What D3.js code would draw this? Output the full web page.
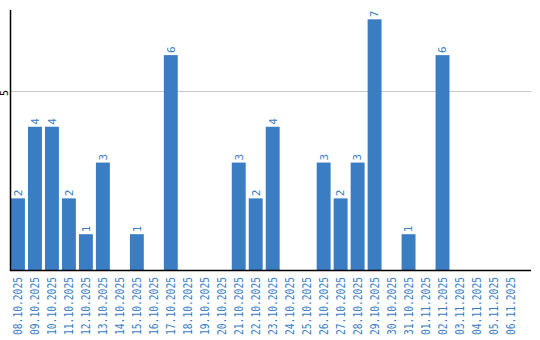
<!DOCTYPE html>
<html>
<head>
<meta charset="utf-8">
<script src="https://cdn.jsdelivr.net/npm/d3@7"></script>
<style>
  body { margin: 0; background: #fff; }
  svg { display: block; }
  text { font-family: "DejaVu Sans Mono", monospace; }
</style>
</head>
<body>
<div id="chart"></div>
<script>
const dates = [
  '08.10.2025', '09.10.2025', '10.10.2025', '11.10.2025', '12.10.2025', '13.10.2025',
  '14.10.2025', '15.10.2025', '16.10.2025', '17.10.2025', '18.10.2025', '19.10.2025',
  '20.10.2025', '21.10.2025', '22.10.2025', '23.10.2025', '24.10.2025', '25.10.2025',
  '26.10.2025', '27.10.2025', '28.10.2025', '29.10.2025', '30.10.2025', '31.10.2025',
  '01.11.2025', '02.11.2025', '03.11.2025', '04.11.2025', '05.11.2025', '06.11.2025'
];
const counts = [2, 4, 4, 2, 1, 3, 0, 1, 0, 6, 0, 0, 0, 3, 2, 4, 0, 0, 3, 2, 3, 7, 0, 1, 0, 6, 0, 0, 0, 0];
const yTicks = [5];
const yMax = 7.26;

const width = 540;
const height = 340;
const plotLeft = 11;
const plotRight = 531;
const plotTop = 10;
const plotBottom = 270;
const barColor = '#3a7dc3';

const svg = d3.select('#chart').append('svg').attr('width', width).attr('height', height);

const x = d3.scaleBand().domain(dates).range([plotLeft, plotRight]).paddingInner(0.18).paddingOuter(0.4).align(0);
const y = d3.scaleLinear().domain([0, yMax]).range([plotBottom, plotTop]);

// gridlines
svg.selectAll('.grid')
  .data(yTicks)
  .join('line')
  .attr('x1', plotLeft)
  .attr('x2', plotRight)
  .attr('y1', (d) => Math.round(y(d)) + 0.5)
  .attr('y2', (d) => Math.round(y(d)) + 0.5)
  .attr('stroke', '#c8c8c8')
  .attr('stroke-width', 1);

const data = dates.map((d, i) => ({ date: d, value: counts[i] }));
const bars = data.filter((d) => d.value > 0);

svg.selectAll('.bar')
  .data(bars)
  .join('rect')
  .attr('x', (d) => x(d.date))
  .attr('y', (d) => y(d.value))
  .attr('width', x.bandwidth())
  .attr('height', (d) => plotBottom - y(d.value))
  .attr('fill', barColor);

// value labels
svg.selectAll('.val')
  .data(bars)
  .join('text')
  .attr('transform', (d) => `translate(${x(d.date) + x.bandwidth() / 2},${y(d.value) - 2}) rotate(-90)`)
  .attr('dy', '0.35em')
  .attr('font-size', 11)
  .attr('fill', barColor)
  .text((d) => d.value);

// x labels
svg.selectAll('.xlab')
  .data(dates)
  .join('text')
  .attr('transform', (d) => `translate(${x(d) + x.bandwidth() / 2},${plotBottom + 7}) rotate(-90)`)
  .attr('dy', '0.35em')
  .attr('text-anchor', 'end')
  .attr('font-size', 12)
  .attr('textLength', 58)
  .attr('lengthAdjust', 'spacingAndGlyphs')
  .attr('fill', barColor)
  .text((d) => d);

// y tick labels
svg.selectAll('.ylab')
  .data(yTicks)
  .join('text')
  .attr('transform', (d) => `translate(4,${y(d) + 2}) rotate(-90)`)
  .attr('dy', '0.35em')
  .attr('text-anchor', 'middle')
  .attr('font-size', 10)
  .attr('fill', '#000')
  .text((d) => d);

// axes lines
svg.append('line')
  .attr('x1', plotLeft - 0.5).attr('x2', plotLeft - 0.5)
  .attr('y1', plotTop).attr('y2', plotBottom + 1)
  .attr('stroke', '#000').attr('stroke-width', 1.5);
svg.append('line')
  .attr('x1', plotLeft - 1).attr('x2', plotRight)
  .attr('y1', plotBottom + 0.5).attr('y2', plotBottom + 0.5)
  .attr('stroke', '#000').attr('stroke-width', 1.5);
</script>
</body>
</html>
